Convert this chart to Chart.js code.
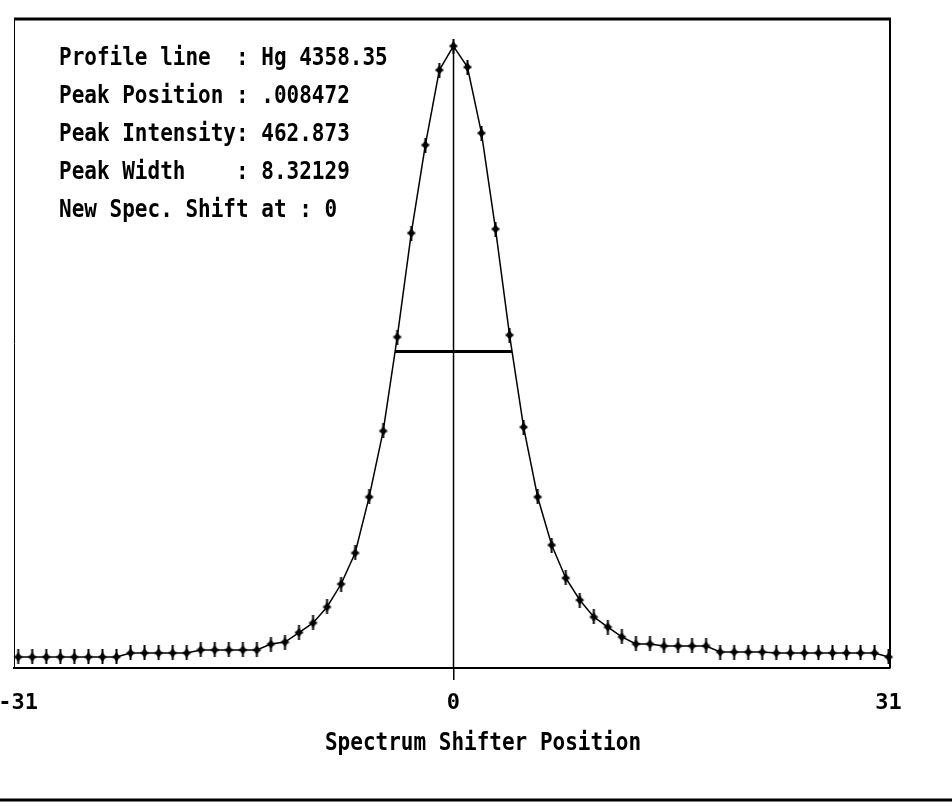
<!DOCTYPE html>
<html>
<head>
<meta charset="utf-8">
<title>Hg 4358.35 profile</title>
<script src="https://cdn.jsdelivr.net/npm/chart.js@4.4.1/dist/chart.umd.min.js"></script>
<style>
  html, body { margin: 0; padding: 0; background: #fff; }
  canvas { display: block; }
</style>
</head>
<body>
<canvas id="profile" width="952" height="807"></canvas>
<script>
// spectrum shifter steps
const positions = [
  -31, -30, -29, -28, -27, -26, -25, -24, -23, -22, -21, -20, -19, -18, -17, -16,
  -15, -14, -13, -12, -11, -10, -9, -8, -7, -6, -5, -4, -3, -2, -1,
  0,
  1, 2, 3, 4, 5, 6, 7, 8, 9, 10, 11, 12, 13, 14, 15, 16,
  17, 18, 19, 20, 21, 22, 23, 24, 25, 26, 27, 28, 29, 30, 31
];

// measured intensity at each step
const intensities = [
  8.2, 8.2, 8.2, 8.2, 8.2, 8.2, 8.2, 8.2, 11.2, 11.2, 11.2, 11.2, 11.2, 13.4, 13.4, 13.4,
  13.4, 13.4, 17.8, 19.3, 26.4, 33.5, 45.4, 62.5, 85.6, 127.3, 176.4, 246.3, 323.7, 389.2, 445.0,
  462.873,
  447.2, 398.1, 326.7, 247.8, 179.3, 127.3, 91.5, 67.0, 50.6, 38.0, 30.5, 23.1, 17.9, 17.9, 16.4, 16.4,
  16.4, 16.4, 11.9, 11.9, 11.9, 11.9, 11.2, 11.2, 11.2, 11.2, 11.2, 11.2, 11.2, 11.2, 8.2
];

const xTicks = [-31, 0, 31];

const peakPosition = 0.008472;
const peakIntensity = 462.873;
const peakWidth = 8.32129;
const baseLevel = 8.2;
const halfLevel = (peakIntensity + baseLevel) / 2;

const infoLines = [
  'Profile line  : Hg 4358.35',
  'Peak Position : .008472',
  'Peak Intensity: 462.873',
  'Peak Width    : 8.32129',
  'New Spec. Shift at : 0'
];
const axisTitle = 'Spectrum Shifter Position';

const FONT = '"DejaVu Sans Mono", "Liberation Mono", monospace';

// little "+" with a diamond, like the plotter marks
function makeMarker() {
  const c = document.createElement('canvas');
  c.width = 11; c.height = 15;
  const g = c.getContext('2d');
  g.fillStyle = '#000';
  g.fillRect(4.5, 0, 2, 15);
  g.fillRect(1.5, 6.5, 8, 2);
  g.beginPath();
  g.moveTo(5.5, 2.5); g.lineTo(9, 7.5); g.lineTo(5.5, 12.5); g.lineTo(2, 7.5);
  g.closePath();
  g.fill();
  return c;
}

// tall narrow text, the font on the screen is stretched vertically
function tallText(ctx, text, x, y, align) {
  ctx.save();
  ctx.translate(x, y);
  ctx.scale(1, 1.2);
  ctx.textAlign = align || 'left';
  ctx.textBaseline = 'alphabetic';
  ctx.fillText(text, 0, 0);
  ctx.restore();
}

const frameAndText = {
  id: 'frameAndText',
  afterDraw(chart) {
    const { ctx, chartArea: a } = chart;
    ctx.save();
    ctx.strokeStyle = '#000';
    ctx.fillStyle = '#000';

    ctx.lineWidth = 3;
    ctx.beginPath(); ctx.moveTo(a.left, a.top); ctx.lineTo(a.right + 1, a.top); ctx.stroke();
    ctx.lineWidth = 2;
    ctx.beginPath(); ctx.moveTo(a.right, a.top); ctx.lineTo(a.right, a.bottom); ctx.stroke();
    ctx.lineWidth = 1;
    ctx.beginPath(); ctx.moveTo(a.left + 0.5, a.top); ctx.lineTo(a.left + 0.5, a.bottom); ctx.stroke();

    // rule under the whole plot
    ctx.lineWidth = 3;
    ctx.beginPath(); ctx.moveTo(0, 800); ctx.lineTo(chart.width, 800); ctx.stroke();

    ctx.font = 'bold 21px ' + FONT;
    infoLines.forEach((t, i) => tallText(ctx, t, a.left + 45, a.top + 46 + i * 38));

    tallText(ctx, axisTitle, 483, 750, 'center');
    ctx.restore();
  }
};

const marker = makeMarker();

new Chart(document.getElementById('profile'), {
  type: 'line',
  data: {
    datasets: [
      {
        data: positions.map((x, i) => ({ x, y: intensities[i] })),
        borderColor: '#000',
        borderWidth: 1.5,
        pointStyle: marker,
        pointBackgroundColor: '#000',
        tension: 0,
        clip: 8
      },
      {
        // full width at half maximum
        data: [
          { x: peakPosition - peakWidth / 2, y: halfLevel },
          { x: peakPosition + peakWidth / 2, y: halfLevel }
        ],
        borderColor: '#000',
        borderWidth: 3,
        pointRadius: 0
      },
      {
        // peak position marker
        data: [
          { x: peakPosition, y: peakIntensity },
          { x: peakPosition, y: 0 }
        ],
        borderColor: '#000',
        borderWidth: 1.5,
        pointRadius: 0
      }
    ]
  },
  options: {
    responsive: false,
    animation: false,
    layout: { padding: { left: 14, right: 62, top: 19, bottom: 0 } },
    plugins: {
      legend: { display: false },
      tooltip: { enabled: false }
    },
    scales: {
      x: {
        type: 'linear',
        min: -31.3,
        max: 31.1,
        afterBuildTicks: s => { s.ticks = xTicks.map(v => ({ value: v })); },
        afterFit: s => { s.paddingLeft = 0; s.paddingRight = 0; s.height = 139; },
        border: { display: true, color: '#000', width: 2 },
        grid: {
          drawOnChartArea: false,
          drawTicks: true,
          tickLength: 12,
          lineWidth: 1.5,
          color: c => (c.tick && c.tick.value === 0 ? '#000' : 'rgba(0,0,0,0)')
        },
        ticks: {
          color: '#000',
          font: { family: FONT, weight: 'bold', size: 22 },
          padding: 10,
          maxRotation: 0,
          autoSkip: false,
          callback: v => String(v)
        }
      },
      y: { display: false, min: 0, max: 483 }
    }
  },
  plugins: [frameAndText]
});
</script>
</body>
</html>
